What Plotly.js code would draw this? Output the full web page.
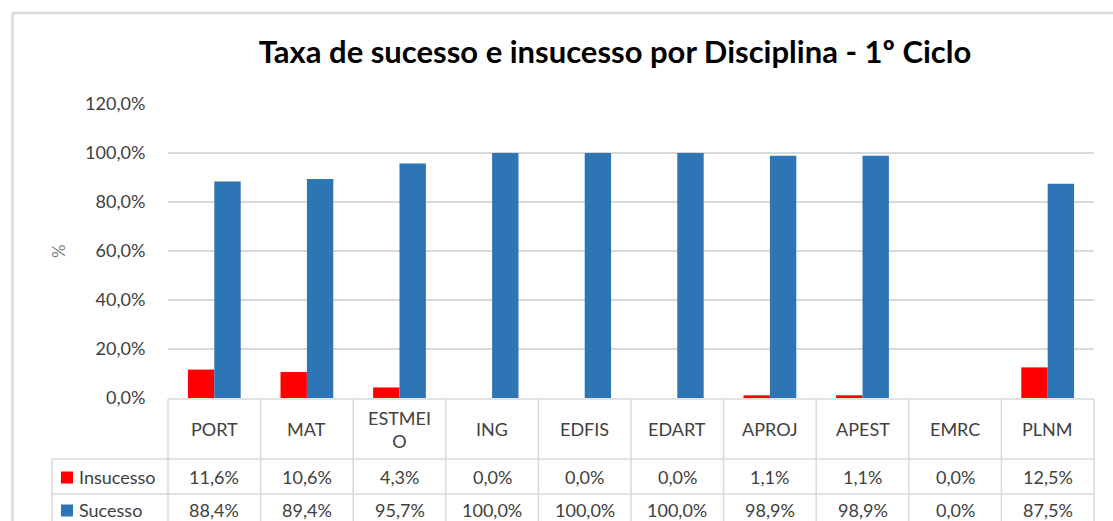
<!DOCTYPE html>
<html>
<head>
<meta charset="utf-8">
<script src="https://cdn.plot.ly/plotly-3.0.1.min.js"></script>
<style>
  html, body { margin: 0; padding: 0; background: #ffffff; }
  #chart { width: 1113px; height: 521px; }
</style>
</head>
<body>
<div id="chart"></div>
<script>
// ---- data ----
const categories = ['PORT', 'MAT', 'ESTMEIO', 'ING', 'EDFIS', 'EDART', 'APROJ', 'APEST', 'EMRC', 'PLNM'];
const insucesso = [11.6, 10.6, 4.3, 0.0, 0.0, 0.0, 1.1, 1.1, 0.0, 12.5];
const sucesso = [88.4, 89.4, 95.7, 100.0, 100.0, 100.0, 98.9, 98.9, 0.0, 87.5];
const seriesNames = ['Insucesso', 'Sucesso'];
const seriesColors = ['#FF0000', '#2E75B6'];
const yTicks = [0, 0.2, 0.4, 0.6, 0.8, 1.0, 1.2];
const chartTitle = 'Taxa de sucesso e insucesso por Disciplina - 1º Ciclo';
const yTitle = '%';

// ---- layout geometry (pixels) ----
const W = 1113, H = 521;
const plotL = 168, plotR = 1094, plotT = 104, plotB = 398;
const pw = plotR - plotL, ph = plotB - plotT;
const px = x => (x - plotL) / pw;          // pixel x -> paper x
const py = y => (plotB - y) / ph;          // pixel y -> paper y

const FONT = 'Lato, "Open Sans", sans-serif';
const TXT = '#404040';
const GRID = '#D9D9D9';

const fmt = v => v.toFixed(1).replace('.', ',') + '%';
const wrap = s => s.length > 6 ? s.slice(0, 6) + '<br>' + s.slice(6) : s;

const series = [insucesso, sucesso];
const traces = series.map((vals, k) => ({
  type: 'bar',
  name: seriesNames[k],
  x: categories,
  y: vals.map(v => v / 100),
  marker: { color: seriesColors[k], line: { width: 0 } },
  hoverinfo: 'x+y+name'
}));

const shapes = [];
const annotations = [];
const n = categories.length;

// table row boundaries (pixel y)
const rowHeaderTop = 399, rowHeaderBot = 459, row1Bot = 494, row2Bot = 529;
const legendLeft = 52;

// horizontal lines
shapes.push({ type: 'line', xref: 'paper', yref: 'paper', x0: 0, x1: 1, y0: py(rowHeaderTop), y1: py(rowHeaderTop), line: { color: GRID, width: 1.5 } });
[rowHeaderBot, row1Bot].forEach(yy => {
  shapes.push({ type: 'line', xref: 'paper', yref: 'paper', x0: px(legendLeft), x1: 1, y0: py(yy), y1: py(yy), line: { color: GRID, width: 1.5 } });
});
// vertical lines at category boundaries
for (let i = 0; i <= n; i++) {
  shapes.push({ type: 'line', xref: 'paper', yref: 'paper', x0: i / n, x1: i / n, y0: py(rowHeaderTop), y1: py(row2Bot), line: { color: GRID, width: 1.5 } });
}
// legend column left edge
shapes.push({ type: 'line', xref: 'paper', yref: 'paper', x0: px(legendLeft), x1: px(legendLeft), y0: py(rowHeaderBot), y1: py(row2Bot), line: { color: GRID, width: 1.5 } });

// outer chart border
shapes.push({ type: 'line', xref: 'paper', yref: 'paper', x0: px(12), x1: px(1120), y0: py(13), y1: py(13), line: { color: '#D9D9D9', width: 2.5 } });
shapes.push({ type: 'line', xref: 'paper', yref: 'paper', x0: px(12.5), x1: px(12.5), y0: py(13), y1: py(530), line: { color: '#D9D9D9', width: 2.5 } });

// header labels
categories.forEach((c, i) => {
  annotations.push({ xref: 'paper', yref: 'paper', x: (i + 0.5) / n, y: py((rowHeaderTop + rowHeaderBot) / 2), text: wrap(c), showarrow: false, xanchor: 'center', yanchor: 'middle', font: { family: FONT, size: 18, color: TXT } });
});
// row values + legend keys
const rowCenters = [(rowHeaderBot + row1Bot) / 2, (row1Bot + row2Bot) / 2 - 2];
series.forEach((vals, k) => {
  const yc = rowCenters[k];
  vals.forEach((v, i) => {
    annotations.push({ xref: 'paper', yref: 'paper', x: (i + 0.5) / n, y: py(yc), text: fmt(v), showarrow: false, xanchor: 'center', yanchor: 'middle', font: { family: FONT, size: 18, color: TXT } });
  });
  shapes.push({ type: 'rect', xref: 'paper', yref: 'paper', x0: px(61), x1: px(73), y0: py(yc - 5), y1: py(yc + 7), fillcolor: seriesColors[k], line: { width: 0 } });
  annotations.push({ xref: 'paper', yref: 'paper', x: px(77), y: py(yc), text: seriesNames[k], showarrow: false, xanchor: 'left', yanchor: 'middle', font: { family: FONT, size: 18, color: TXT } });
});

// y-axis title
annotations.push({ xref: 'paper', yref: 'paper', x: px(58), y: py(251), text: yTitle, textangle: -90, showarrow: false, xanchor: 'center', yanchor: 'middle', font: { family: FONT, size: 17, color: '#7F7F7F' } });

const layout = {
  width: W, height: H,
  margin: { l: plotL, r: W - plotR, t: plotT, b: H - plotB, pad: 0 },
  paper_bgcolor: '#FFFFFF',
  plot_bgcolor: '#FFFFFF',
  separators: ',.',
  showlegend: false,
  barmode: 'group',
  bargap: 0.43,
  bargroupgap: 0,
  title: {
    text: chartTitle,
    font: { family: FONT, size: 31, color: '#000000', weight: 'bold' },
    xref: 'container', x: 615 / W, xanchor: 'center',
    yref: 'container', y: 1 - 52 / H, yanchor: 'middle'
  },
  xaxis: {
    type: 'category',
    range: [-0.5, n - 0.5],
    showticklabels: false,
    showgrid: false,
    zeroline: false,
    showline: false,
    ticks: '',
    fixedrange: true
  },
  yaxis: {
    range: [0, 1.2],
    tickvals: yTicks,
    tickformat: '.1%',
    showgrid: true,
    gridcolor: GRID,
    gridwidth: 1.5,
    zeroline: false,
    showline: false,
    ticks: 'outside',
    ticklen: 18,
    tickcolor: 'rgba(0,0,0,0)',
    tickfont: { family: FONT, size: 18, color: TXT },
    fixedrange: true
  },
  shapes: shapes,
  annotations: annotations
};

Plotly.newPlot('chart', traces, layout, { displayModeBar: false, staticPlot: true });
</script>
</body>
</html>
